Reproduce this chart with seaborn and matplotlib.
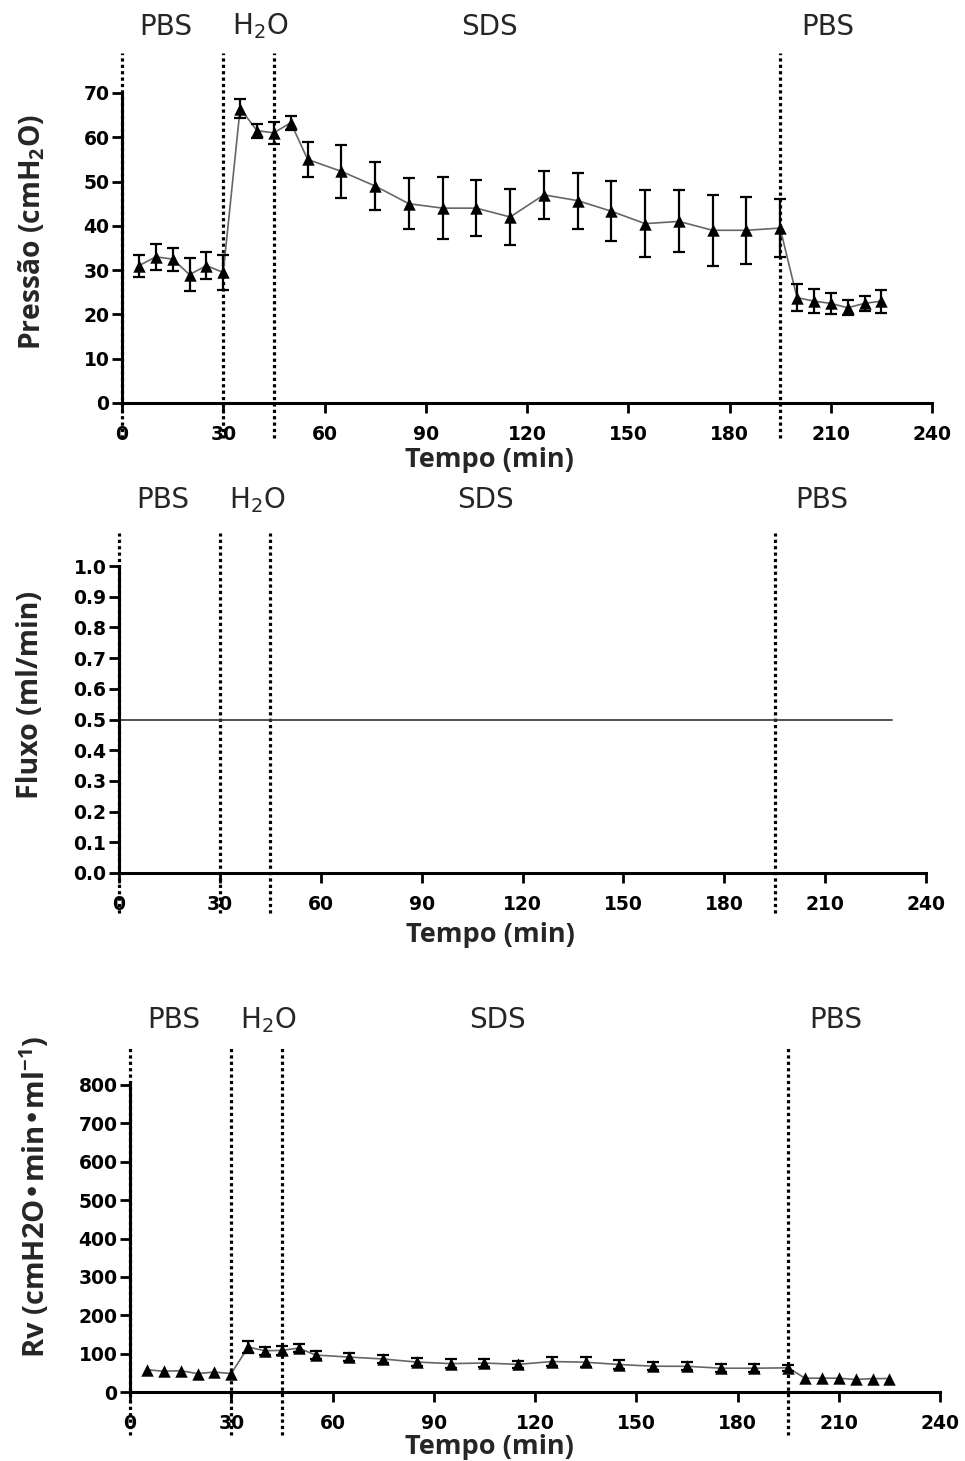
import matplotlib
matplotlib.use("Agg")
import matplotlib.pyplot as plt
import seaborn as sns

# Sampling times (min)
tempo = [5, 10, 15, 20, 25, 30, 35, 40, 45, 50, 55,
         65, 75, 85, 95, 105, 115, 125, 135, 145, 155, 165, 175, 185, 195,
         200, 205, 210, 215, 220, 225]

# Perfusion pressure (cmH2O), mean and SEM
pressao = [31, 33, 32.5, 29, 31, 29.5, 66.5, 61.5, 61, 63.3, 55,
           52.3, 49, 45, 44, 44, 42, 47, 45.7, 43.3, 40.5, 41, 39, 39, 39.5,
           23.8, 23, 22.5, 21.5, 22.5, 23]
pressao_ep = [2.5, 3, 2.6, 3.7, 3, 4, 2.2, 1.6, 2.5, 1.6, 4,
              6, 5.5, 5.8, 7, 6.3, 6.3, 5.5, 6.3, 6.8, 7.6, 7, 8, 7.6, 6.6,
              3, 2.7, 2.4, 1.7, 1.7, 2.6]

# Constant perfusion flow (ml/min)
fluxo_tempo = [0, 230]
fluxo = [0.5, 0.5]

# Vascular resistance, mean and SEM
rv = [58, 54, 55.5, 48, 52, 48, 117, 107.5, 108.4, 114.5, 96.3,
      91, 86, 78, 74, 75.5, 72, 79.4, 77.6, 71.6, 67.2, 67, 62, 62, 63,
      36, 36, 36, 32.6, 35, 35]
rv_ep = [3, 3, 3, 3, 3, 3, 15, 10, 12, 10, 10,
         11, 11, 11, 11, 10, 10, 12, 13, 11, 11, 10, 11, 10, 8,
         2.5, 2.5, 2.5, 2.5, 2.5, 2.5]

# Perfusion phases
fases = ["PBS", "H$_2$O", "SDS", "PBS"]
fases_x = [13, 41, 109, 209]
limites = [0, 30, 45, 195]

x_ticks = [0, 30, 60, 90, 120, 150, 180, 210, 240]

sns.set_style("ticks")
plt.rcParams["font.family"] = ["DejaVu Sans"]
plt.rcParams["mathtext.default"] = "regular"

fig = plt.figure(figsize=(9.65, 14.61), dpi=100)

W, H = 965, 1461
LABEL_FONT = ["Open Sans", "DejaVu Sans"]


def make_axes(left, right, y0, y1):
    return fig.add_axes([left / W, 1 - y0 / H, (right - left) / W, (y0 - y1) / H])


def style_axes(ax, yticks, yfmt, ylim):
    ax.set_xlim(0, 240)
    ax.set_ylim(*ylim)
    ax.set_xticks(x_ticks)
    ax.set_yticks(yticks)
    ax.set_xticklabels([str(t) for t in x_ticks])
    ax.set_yticklabels([yfmt.format(v) for v in yticks])
    for s in ("top", "right"):
        ax.spines[s].set_visible(False)
    for s in ("left", "bottom"):
        ax.spines[s].set_linewidth(2.2)
        ax.spines[s].set_color("black")
    ax.tick_params(axis="both", length=7, width=2, color="black",
                   labelsize=13.5, labelcolor="black")
    ax.tick_params(axis="x", pad=9)
    ax.tick_params(axis="y", pad=2)
    for lab in ax.get_xticklabels() + ax.get_yticklabels():
        lab.set_fontweight("bold")
        lab.set_fontfamily("DejaVu Sans")
    ax.set_facecolor("white")


def phases(ax, ymin, ymax, ylab):
    ax.vlines(limites, ymin, ymax, colors="black", linestyles=(0, (1, 1)),
              linewidth=2.3, clip_on=False, zorder=1)
    for txt, x in zip(fases, fases_x):
        ax.text(x, ylab, txt, ha="center", va="center", fontsize=20,
                fontweight="normal", family="DejaVu Sans", clip_on=False)


def labels(ax, xl, yl, xpos, ypos, ysize=20):
    ax.set_xlabel(xl, fontsize=19.5, fontweight="bold", family=LABEL_FONT)
    ax.xaxis.label.set_verticalalignment("center")
    ax.xaxis.set_label_coords(*xpos)
    ax.set_ylabel(yl, fontsize=ysize, fontweight="bold", family=LABEL_FONT)
    ax.yaxis.label.set_verticalalignment("center")
    ax.yaxis.set_label_coords(*ypos)


def series(ax, y, err, min_bar=0):
    # error bars shorter than the symbol stay hidden behind it
    keep = [i for i, e in enumerate(err) if e >= min_bar]
    ax.errorbar([tempo[i] for i in keep], [y[i] for i in keep],
                yerr=[err[i] for i in keep], fmt="none", ecolor="black",
                elinewidth=1.6, capsize=4, capthick=1.6, zorder=3)
    sns.lineplot(x=tempo, y=y, ax=ax, color="#666666", linewidth=1.2,
                 zorder=2, estimator=None)
    sns.scatterplot(x=tempo, y=y, ax=ax, marker="^", s=80, color="black",
                    edgecolor="black", linewidth=0, zorder=4, clip_on=False)


# Pressure
ax1 = make_axes(122, 932, 403, 93)
series(ax1, pressao, pressao_ep)
style_axes(ax1, list(range(0, 71, 10)), "{:d}", (0, 70))
phases(ax1, -8, 79, 85)
labels(ax1, "Tempo (min)", "Pressão (cmH$_2$O)", (0.454, -0.184), (-0.111, 0.552), 20.3)

# Flow
ax2 = make_axes(119, 926, 873, 566)
sns.lineplot(x=fluxo_tempo, y=fluxo, ax=ax2, color="#333333", linewidth=1.2)
style_axes(ax2, [i / 10 for i in range(11)], "{:.1f}", (0, 1.0))
phases(ax2, -0.13, 1.107, 1.215)
labels(ax2, "Tempo (min)", "Fluxo (ml/min)", (0.46, -0.202), (-0.110, 0.58), 20.6)

# Vascular resistance
ax3 = make_axes(130, 940, 1392, 1085)
series(ax3, rv, rv_ep, min_bar=5)
style_axes(ax3, list(range(0, 801, 100)), "{:d}", (0, 800))
phases(ax3, -112, 896, 969)
labels(ax3, "Tempo (min)", "Rv (cmH2O•min•ml$^{-1}$)", (0.444, -0.179), (-0.117, 0.635), 21)

fig.savefig("out.png", dpi=100, facecolor="white")
